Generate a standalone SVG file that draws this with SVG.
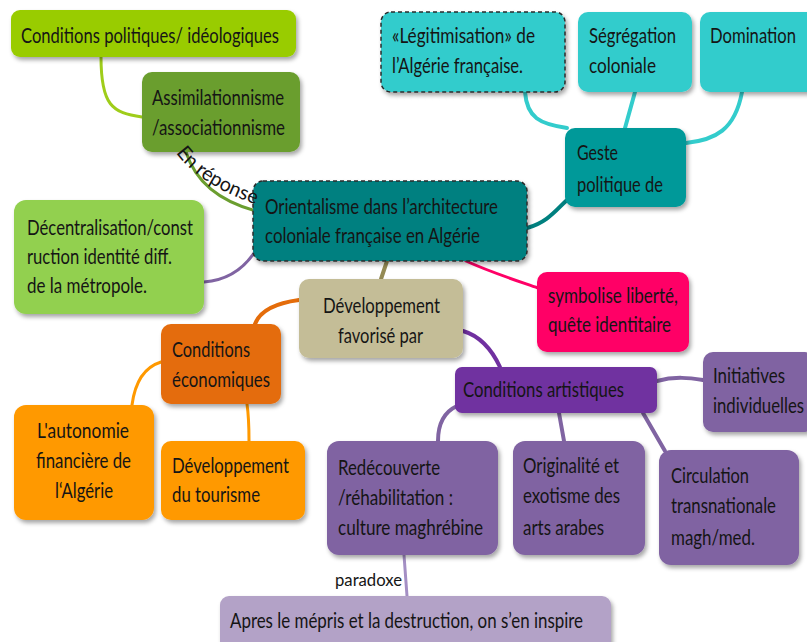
<svg xmlns="http://www.w3.org/2000/svg" width="807" height="642" viewBox="0 0 807 642">
  <defs>
    <filter id="shadow" x="-10%" y="-10%" width="130%" height="140%">
      <feDropShadow dx="2" dy="3" stdDeviation="2" flood-color="#000" flood-opacity="0.35"/>
    </filter>
    <path id="labelPath" d="M176,153 Q200,185 255,204"/>
  </defs>
  <style>
    text { font-family: Lato, "Open Sans", "Liberation Sans", sans-serif; font-size: 22px; fill: #151515; }
    .box { filter: url(#shadow); }
    .dashed { stroke: #2b2b2b; stroke-width: 1.5; stroke-dasharray: 4 3; }
    .link { fill: none; stroke-linecap: round; }
    .small { font-size: 17px; }
    .curved { font-size: 20px; }
  </style>

  <rect width="807" height="642" fill="#ffffff"/>

  <!-- connectors -->
  <g id="connectors">
    <path class="link" d="M101,57 C101,105 112,113 142,117" stroke="#9fcd1a" stroke-width="3"/>
    <path class="link" d="M186,152 Q200,196 256,211" stroke="#6b9e2f" stroke-width="3"/>
    <path class="link" d="M204,282 C230,280 246,266 256,250" stroke="#8064a2" stroke-width="3"/>
    <path class="link" d="M527,228 C548,222 556,210 567,200" stroke="#00807f" stroke-width="4"/>
    <path class="link" d="M525,92 C527,118 540,124 567,128" stroke="#33cccc" stroke-width="4"/>
    <path class="link" d="M635,92 L625,128" stroke="#33cccc" stroke-width="4"/>
    <path class="link" d="M742,92 C735,130 715,140 686,143" stroke="#33cccc" stroke-width="4"/>
    <path class="link" d="M387,261 L381,279" stroke="#948a54" stroke-width="4"/>
    <path class="link" d="M466,261 C490,272 515,280 538,288" stroke="#ff0066" stroke-width="3"/>
    <path class="link" d="M299,300 C276,303 260,311 255,324" stroke="#e46c0a" stroke-width="4"/>
    <path class="link" d="M161,362 C145,367 135,382 132,405" stroke="#ff9900" stroke-width="3"/>
    <path class="link" d="M247,404 C249,418 249,428 249,441" stroke="#ff9900" stroke-width="3"/>
    <path class="link" d="M463,331 C480,336 492,350 500,367" stroke="#7030a0" stroke-width="4"/>
    <path class="link" d="M657,381 C675,376 690,378 703,380" stroke="#8064a2" stroke-width="4"/>
    <path class="link" d="M457,406 C444,412 438,425 438,441" stroke="#8064a2" stroke-width="4"/>
    <path class="link" d="M559,413 L564,441" stroke="#8064a2" stroke-width="4"/>
    <path class="link" d="M643,413 L665,451" stroke="#8064a2" stroke-width="4"/>
    <path class="link" d="M404,555 L407,596" stroke="#a48fc4" stroke-width="3"/>
    <text class="small" x="335" y="586" textLength="67" lengthAdjust="spacingAndGlyphs">paradoxe</text>
  </g>

  <!-- nodes -->
  <g id="node-politiques">
    <rect class="box" x="11" y="10" width="285" height="47" rx="9" fill="#99cc00"/>
    <text x="21" y="43" textLength="258" lengthAdjust="spacingAndGlyphs">Conditions politiques/ idéologiques</text>
  </g>

  <g id="node-assimilation">
    <rect class="box" x="142" y="72" width="158" height="80" rx="10" fill="#6b9e2f"/>
    <text x="152" y="105" textLength="132" lengthAdjust="spacingAndGlyphs">Assimilationnisme</text>
    <text x="152" y="135" textLength="133" lengthAdjust="spacingAndGlyphs">/associationnisme</text>
  </g>

  <g id="node-orientalisme">
    <rect class="box dashed" x="253" y="181" width="274" height="80" rx="10" fill="#008080"/>
    <text x="265" y="214" textLength="233" lengthAdjust="spacingAndGlyphs">Orientalisme dans l’architecture</text>
    <text x="265" y="243" textLength="215" lengthAdjust="spacingAndGlyphs">coloniale française en Algérie</text>
  </g>

  <g id="node-geste">
    <rect class="box" x="565" y="128" width="121" height="79" rx="10" fill="#009999"/>
    <text x="577" y="160" textLength="41" lengthAdjust="spacingAndGlyphs">Geste</text>
    <text x="577" y="192" textLength="86" lengthAdjust="spacingAndGlyphs">politique de</text>
  </g>

  <g id="node-legitimisation">
    <rect class="box dashed" x="381" y="12" width="184" height="80" rx="10" fill="#33cccc"/>
    <text x="392" y="43" textLength="143" lengthAdjust="spacingAndGlyphs">«Légitimisation» de</text>
    <text x="392" y="73" textLength="131" lengthAdjust="spacingAndGlyphs">l’Algérie française.</text>
  </g>

  <g id="node-segregation">
    <rect class="box" x="578" y="12" width="114" height="80" rx="10" fill="#33cccc"/>
    <text x="589" y="43" textLength="87" lengthAdjust="spacingAndGlyphs">Ségrégation</text>
    <text x="589" y="73" textLength="67" lengthAdjust="spacingAndGlyphs">coloniale</text>
  </g>

  <g id="node-domination">
    <rect class="box" x="700" y="12" width="122" height="80" rx="10" fill="#33cccc"/>
    <text x="710" y="43" textLength="86" lengthAdjust="spacingAndGlyphs">Domination</text>
  </g>

  <g id="node-decentralisation">
    <rect class="box" x="14" y="200" width="190" height="114" rx="12" fill="#92d050"/>
    <text x="27" y="235" textLength="166" lengthAdjust="spacingAndGlyphs">Décentralisation/const</text>
    <text x="27" y="264" textLength="145" lengthAdjust="spacingAndGlyphs">ruction identité diff.</text>
    <text x="27" y="293" textLength="120" lengthAdjust="spacingAndGlyphs">de la métropole.</text>
  </g>

  <g id="node-developpement">
    <rect class="box" x="299" y="279" width="164" height="79" rx="10" fill="#c4bd97"/>
    <text x="323" y="313" textLength="117" lengthAdjust="spacingAndGlyphs">Développement</text>
    <text x="338" y="343" textLength="85" lengthAdjust="spacingAndGlyphs">favorisé par</text>
  </g>

  <g id="node-economiques">
    <rect class="box" x="161" y="324" width="120" height="80" rx="10" fill="#e46c0a"/>
    <text x="172" y="357" textLength="78" lengthAdjust="spacingAndGlyphs">Conditions</text>
    <text x="172" y="387" textLength="98" lengthAdjust="spacingAndGlyphs">économiques</text>
  </g>

  <g id="node-autonomie">
    <rect class="box" x="14" y="405" width="140" height="115" rx="12" fill="#ff9900"/>
    <text x="37" y="438" textLength="92" lengthAdjust="spacingAndGlyphs">L'autonomie</text>
    <text x="36" y="468" textLength="95" lengthAdjust="spacingAndGlyphs">financière de</text>
    <text x="55" y="498" textLength="58" lengthAdjust="spacingAndGlyphs">l‘Algérie</text>
  </g>

  <g id="node-tourisme">
    <rect class="box" x="161" y="441" width="144" height="79" rx="10" fill="#ff9900"/>
    <text x="172" y="473" textLength="117" lengthAdjust="spacingAndGlyphs">Développement</text>
    <text x="172" y="502" textLength="88" lengthAdjust="spacingAndGlyphs">du tourisme</text>
  </g>

  <g id="node-artistiques">
    <rect class="box" x="455" y="367" width="202" height="46" rx="7" fill="#7030a0"/>
    <text x="463" y="397" textLength="161" lengthAdjust="spacingAndGlyphs">Conditions artistiques</text>
  </g>

  <g id="node-initiatives">
    <rect class="box" x="703" y="352" width="112" height="80" rx="10" fill="#8064a2"/>
    <text x="713" y="383" textLength="72" lengthAdjust="spacingAndGlyphs">Initiatives</text>
    <text x="713" y="413" textLength="91" lengthAdjust="spacingAndGlyphs">individuelles</text>
  </g>

  <g id="node-redecouverte">
    <rect class="box" x="327" y="441" width="171" height="114" rx="12" fill="#8064a2"/>
    <text x="338" y="475" textLength="102" lengthAdjust="spacingAndGlyphs">Redécouverte</text>
    <text x="338" y="505" textLength="115" lengthAdjust="spacingAndGlyphs">/réhabilitation :</text>
    <text x="338" y="535" textLength="145" lengthAdjust="spacingAndGlyphs">culture maghrébine</text>
  </g>

  <g id="node-originalite">
    <rect class="box" x="513" y="441" width="132" height="114" rx="12" fill="#8064a2"/>
    <text x="523" y="473" textLength="96" lengthAdjust="spacingAndGlyphs">Originalité et</text>
    <text x="523" y="503" textLength="97" lengthAdjust="spacingAndGlyphs">exotisme des</text>
    <text x="523" y="535" textLength="81" lengthAdjust="spacingAndGlyphs">arts arabes</text>
  </g>

  <g id="node-circulation">
    <rect class="box" x="659" y="450" width="140" height="115" rx="12" fill="#8064a2"/>
    <text x="671" y="483" textLength="78" lengthAdjust="spacingAndGlyphs">Circulation</text>
    <text x="671" y="513" textLength="105" lengthAdjust="spacingAndGlyphs">transnationale</text>
    <text x="671" y="545" textLength="84" lengthAdjust="spacingAndGlyphs">magh/med.</text>
  </g>

  <g id="node-apres">
    <rect class="box" x="220" y="596" width="391" height="60" rx="9" fill="#b3a2c7"/>
    <text x="230" y="628" textLength="353" lengthAdjust="spacingAndGlyphs">Apres le mépris et la destruction, on s’en inspire</text>
  </g>

  <g id="node-symbolise">
    <rect class="box" x="537" y="272" width="152" height="80" rx="10" fill="#ff0066"/>
    <text x="548" y="303" textLength="130" lengthAdjust="spacingAndGlyphs">symbolise liberté,</text>
    <text x="548" y="332" textLength="123" lengthAdjust="spacingAndGlyphs">quête identitaire</text>
  </g>

  <!-- curved label of the Assimilationnisme link, drawn over the box edge -->
  <g id="connector-label">
    <text class="curved"><textPath href="#labelPath" textLength="96" lengthAdjust="spacingAndGlyphs">En réponse</textPath></text>
  </g>
</svg>
